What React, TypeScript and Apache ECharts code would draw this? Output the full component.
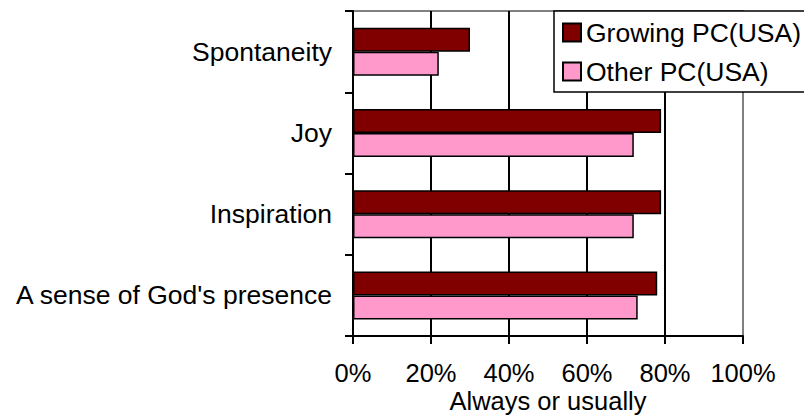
import React, { useEffect, useRef } from "react";
import * as echarts from "echarts";

const categories = ["Spontaneity", "Joy", "Inspiration", "A sense of God's presence"];
const growing = [30, 79, 79, 78];
const other = [22, 72, 72, 73];
const seriesNames = ["Growing PC(USA)", "Other PC(USA)"];
const axisTitle = "Always or usually";

const FONT = "'Liberation Sans', Arial, sans-serif";

export default function App() {
  const ref = useRef<HTMLDivElement>(null);
  useEffect(() => {
    if (!ref.current) return;
    const chart = echarts.init(ref.current, null, { renderer: "svg" });
    chart.setOption({
      animation: false,
      backgroundColor: "#ffffff",
      textStyle: { fontFamily: FONT, color: "#000" },
      grid: {
        left: 353,
        right: 61,
        top: 11,
        bottom: 80,
        containLabel: false,
        outerBoundsMode: "none",
        show: true,
        borderColor: "#808080",
        borderWidth: 2,
        backgroundColor: "transparent",
      },
      legend: {
        orient: "vertical",
        left: 554,
        top: 11,
        padding: [8, 5, 7, 8],
        itemGap: 12,
        itemWidth: 18,
        itemHeight: 18,
        backgroundColor: "#ffffff",
        borderColor: "#000",
        borderWidth: 1.5,
        borderRadius: 0,
        icon: "rect",
        textStyle: { fontFamily: FONT, fontSize: 26.5, color: "#000", padding: [0, 0, 0, 0] },
        data: seriesNames,
      },
      xAxis: {
        type: "value",
        min: 0,
        max: 100,
        interval: 20,
        name: axisTitle,
        nameLocation: "middle",
        nameGap: 65,
        nameMoveOverlap: false,
        nameTextStyle: { fontFamily: FONT, fontSize: 25.5, color: "#000", verticalAlign: "middle" },
        axisLine: { show: true, lineStyle: { color: "#000", width: 2 } },
        axisTick: { show: true, length: 8, lineStyle: { color: "#000", width: 2 } },
        axisLabel: {
          formatter: "{value}%",
          fontFamily: FONT,
          fontSize: 25.5,
          color: "#000",
          margin: 24,
        },
        splitLine: {
          show: true,
          lineStyle: {
            color: ["#000", "#000", "#000", "#000", "#000", "#808080"],
            width: 2,
          },
        },
      },
      yAxis: {
        type: "category",
        inverse: true,
        data: categories,
        axisLine: { show: true, lineStyle: { color: "#000", width: 2 } },
        axisTick: { show: true, length: 8, lineStyle: { color: "#000", width: 2 } },
        axisLabel: { fontFamily: FONT, fontSize: 26.5, color: "#000", margin: 21 },
        splitLine: { show: false },
      },
      series: [
        {
          name: seriesNames[0],
          type: "bar",
          data: growing,
          barWidth: 24,
          barGap: "0%",
          itemStyle: { color: "#800000", borderColor: "#000", borderWidth: 1.5 },
        },
        {
          name: seriesNames[1],
          type: "bar",
          data: other,
          barWidth: 24,
          barGap: "0%",
          itemStyle: { color: "#FF99CC", borderColor: "#000", borderWidth: 1.5 },
        },
      ],
    });
    return () => chart.dispose();
  }, []);
  return <div ref={ref} style={{ width: 804, height: 416, position: "absolute", left: 0, top: 0 }} />;
}
